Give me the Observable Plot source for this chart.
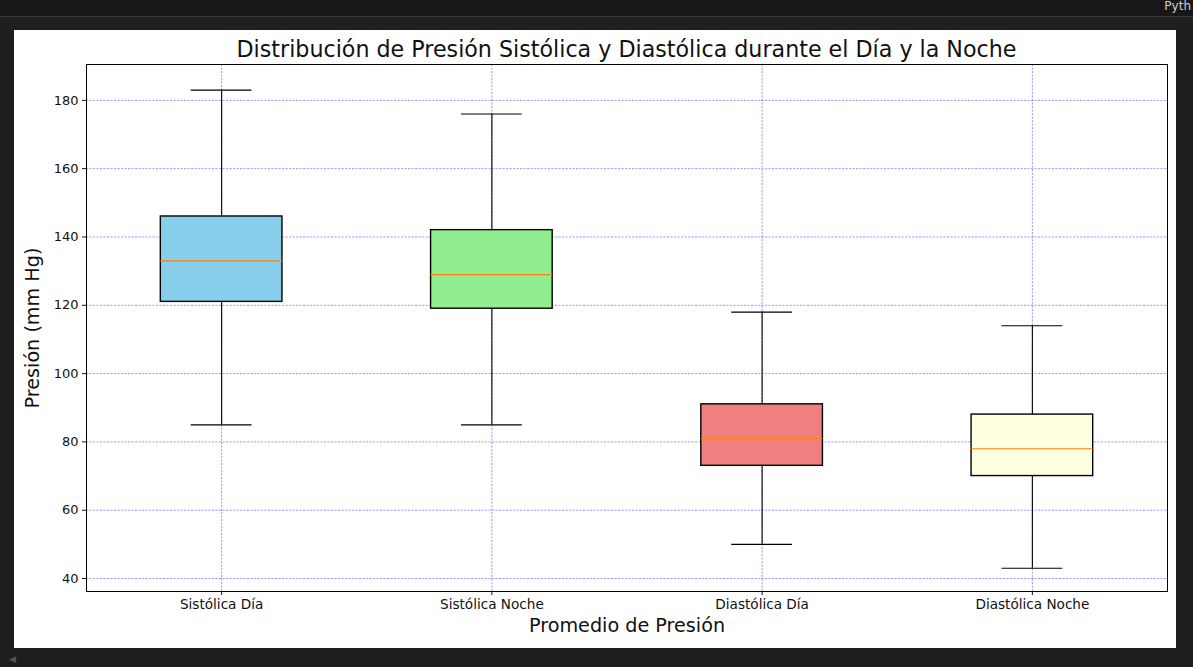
<!DOCTYPE html>
<html>
<head>
<meta charset="utf-8">
<script src="https://cdn.jsdelivr.net/npm/d3@7"></script>
<script src="https://cdn.jsdelivr.net/npm/@observablehq/plot@0.6"></script>
<style>
  html, body { margin: 0; padding: 0; }
  body { width: 1193px; height: 667px; background: #1f1f1f; position: relative; overflow: hidden; font-family: "DejaVu Sans", sans-serif; }
  #topbar { position: absolute; left: 0; top: 0; width: 1193px; height: 16px; background: #181818; border-bottom: 1px solid #3a3a3a; }
  #pyth { position: absolute; right: 2px; top: 0px; color: #cccccc; font-size: 12px; line-height: 13px; }
  #arrow { position: absolute; left: 9px; top: 654px; color: #555; font-size: 9px; }
  #figure { position: absolute; left: 14px; top: 30px; width: 1162px; height: 618px; background: #fff; }
  #title { position: absolute; left: 31.5px; top: 8px; width: 1162px; line-height: 22px; text-align: center; font-size: 22.2px; color: #111; white-space: nowrap; }
  #chart { position: absolute; left: 0; top: 30px; }
  #chart svg { display: block; }
</style>
</head>
<body>
<div id="topbar"><span id="pyth">Pyth</span></div>
<div id="arrow">◀</div>
<div id="figure">
  <div id="chart"></div>
  <div id="title">Distribución de Presión Sistólica y Diastólica durante el Día y la Noche</div>
</div>
<script>
const categories = ["Sistólica Día", "Sistólica Noche", "Diastólica Día", "Diastólica Noche"];
const whiskerLow  = [85, 85, 50, 43];
const q1          = [121, 119, 73, 70];
const median      = [133, 129, 81, 78];
const q3          = [146, 142, 91, 88];
const whiskerHigh = [183, 176, 118, 114];
const fills = ["#87ceeb", "#90ee90", "#f08080", "#ffffe0"];
const yTicks = [40, 60, 80, 100, 120, 140, 160, 180];

const boxHalf = 0.225;
const capHalf = 0.1125;
const data = categories.map((c, i) => ({
  cat: c, pos: i + 1,
  lo: whiskerLow[i], q1: q1[i], med: median[i], q3: q3[i], hi: whiskerHigh[i],
  fill: fills[i]
}));

const gridStyle = { stroke: "blue", strokeOpacity: 0.5, strokeDasharray: "2.2,1.3", strokeWidth: 0.8 };

const chart = Plot.plot({
  width: 1162,
  height: 588,
  marginTop: 4,
  marginBottom: 57,
  marginLeft: 72,
  marginRight: 9,
  style: { fontFamily: "DejaVu Sans, sans-serif", fontSize: "13px", color: "#111", background: "#fff" },
  x: { domain: [0.5, 4.5], label: null },
  y: { domain: [36.2, 190.5], label: null },
  marks: [
    Plot.gridY(yTicks, gridStyle),
    Plot.gridX([1, 2, 3, 4], gridStyle),
    Plot.ruleX(data, { x: "pos", y1: "lo", y2: "q1", stroke: "#000", strokeWidth: 1.1 }),
    Plot.ruleX(data, { x: "pos", y1: "q3", y2: "hi", stroke: "#000", strokeWidth: 1.1 }),
    Plot.ruleY(data, { y: "lo", x1: d => d.pos - capHalf, x2: d => d.pos + capHalf, stroke: "#000", strokeWidth: 1.1 }),
    Plot.ruleY(data, { y: "hi", x1: d => d.pos - capHalf, x2: d => d.pos + capHalf, stroke: "#000", strokeWidth: 1.1 }),
    Plot.rect(data, { x1: d => d.pos - boxHalf, x2: d => d.pos + boxHalf, y1: "q1", y2: "q3", fill: "fill", stroke: "#000", strokeWidth: 1.4 }),
    Plot.ruleY(data, { y: "med", x1: d => d.pos - boxHalf, x2: d => d.pos + boxHalf, stroke: "#ff7f0e", strokeWidth: 1.2 }),
    Plot.frame({ stroke: "#000", strokeWidth: 1 }),
    Plot.axisX({ ticks: [1, 2, 3, 4], tickFormat: d => categories[d - 1], tickSize: 4, tickPadding: 4, label: null, fontSize: 13.6 }),
    Plot.axisY({ ticks: yTicks, tickSize: 4, tickPadding: 4, label: null, fontSize: 13 }),
    Plot.text(["Presión (mm Hg)"], { frameAnchor: "left", textAnchor: "middle", rotate: -90, dx: -54, fontSize: 19.2, fill: "#111" }),
    Plot.text(["Promedio de Presión"], { frameAnchor: "bottom", dy: 40, fontSize: 19.2, fill: "#111" })
  ]
});
document.getElementById("chart").appendChild(chart);
</script>
</body>
</html>
